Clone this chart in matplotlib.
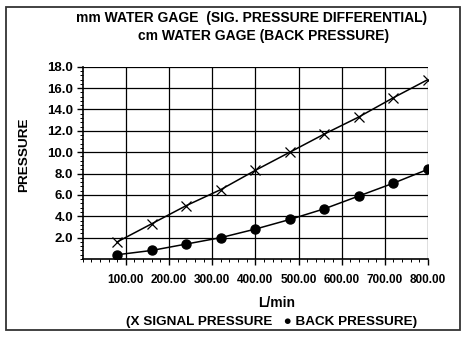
import matplotlib
matplotlib.use("Agg")
import matplotlib.pyplot as plt
from matplotlib.ticker import MultipleLocator, FormatStrFormatter
from matplotlib.patches import Rectangle

flow = [80, 160, 240, 320, 400, 480, 560, 640, 720, 800]
signal_pressure = [1.6, 3.3, 5.0, 6.5, 8.3, 10.0, 11.7, 13.3, 15.1, 16.8]
back_pressure = [0.4, 0.8, 1.4, 2.0, 2.8, 3.7, 4.7, 5.9, 7.1, 8.4]
x_ticks = [100, 200, 300, 400, 500, 600, 700, 800]
y_ticks = [2, 4, 6, 8, 10, 12, 14, 16, 18]

plt.rcParams['font.family'] = ['Liberation Sans', 'DejaVu Sans']

W, H = 467, 337
fig = plt.figure(figsize=(W / 100, H / 100), dpi=100)
ax = fig.add_axes([82.7 / W, 1 - 259 / H, (428 - 82.7) / W, (259 - 66.7) / H])

ax.plot(flow, signal_pressure, color='black', lw=1.1, marker='x', ms=7, mew=0.9)
ax.plot(flow, back_pressure, color='black', lw=1.1, marker='o', ms=6.5)

ax.set_xlim(0, 800)
ax.set_ylim(0, 18)
ax.set_xticks(x_ticks)
ax.set_yticks(y_ticks)
ax.xaxis.set_major_formatter(FormatStrFormatter('%.2f'))
ax.yaxis.set_major_formatter(FormatStrFormatter('%.1f'))
ax.xaxis.set_minor_locator(MultipleLocator(20))
ax.yaxis.set_minor_locator(MultipleLocator(0.4))
ax.grid(True, which='major', color='black', lw=0.9)
ax.tick_params(which='major', direction='out', length=4, width=1, pad=2)
ax.tick_params(which='minor', direction='out', length=2.5, width=0.7)
ax.tick_params(axis='x', which='major', pad=7, labelsize=8.5)
ax.tick_params(axis='y', which='major', pad=3, labelsize=9.5)
for lab in ax.get_xticklabels() + ax.get_yticklabels():
    lab.set_fontweight('bold')
for s in ['top', 'right']:
    ax.spines[s].set_visible(False)
for s in ['left', 'bottom']:
    ax.spines[s].set_linewidth(1.2)

fig.text(252 / W, 1 - 18 / H, 'mm WATER GAGE  (SIG. PRESSURE DIFFERENTIAL)', ha='center', va='center',
         fontsize=10, fontweight='bold')
fig.text(264 / W, 1 - 36 / H, 'cm WATER GAGE (BACK PRESSURE)', ha='center', va='center',
         fontsize=10, fontweight='bold')
fig.text(24 / W, 1 - 155 / H, 'PRESSURE', rotation=90, ha='center', va='center',
         fontsize=9.7, fontweight='bold')
fig.text(277 / W, 1 - 303 / H, 'L/min', ha='center', va='center', fontsize=10, fontweight='bold')
fig.text(272 / W, 1 - 322 / H, '(X SIGNAL PRESSURE   \u25CF BACK PRESSURE)', ha='center', va='center',
         fontsize=9.7, fontweight='bold')

fig.patches.append(Rectangle((5.5 / W, 1 - 330 / H), (460 - 5.5) / W, (330 - 7) / H,
                             transform=fig.transFigure, fill=False, edgecolor='#333333', lw=1.3))

fig.savefig('out.png', dpi=100)
